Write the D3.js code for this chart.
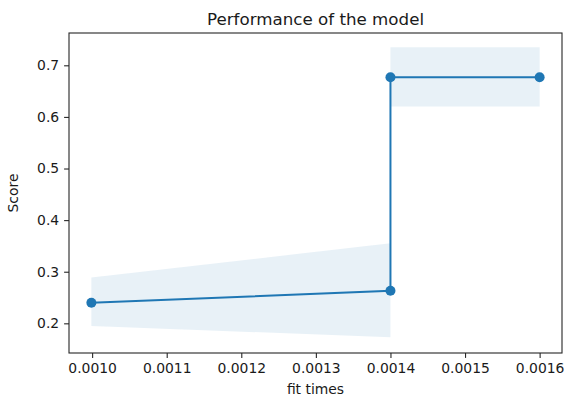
<!DOCTYPE html>
<html>
<head>
<meta charset="utf-8">
<script src="https://cdn.jsdelivr.net/npm/d3@7"></script>
<style>
  body { margin: 0; background: #fff; }
  text { font-family: "DejaVu Sans", sans-serif; fill: #1a1a1a; }
</style>
</head>
<body>
<div id="chart"></div>
<script>
// fit times and mean / spread of the score
const fitTimes = [0.000999, 0.0014, 0.0014, 0.0016];
const scoreMean = [0.240, 0.263, 0.677, 0.677];
const scoreLow = [0.195, 0.173, 0.620, 0.620];
const scoreHigh = [0.289, 0.355, 0.735, 0.735];
const xTicks = [0.0010, 0.0011, 0.0012, 0.0013, 0.0014, 0.0015, 0.0016];
const yTicks = [0.2, 0.3, 0.4, 0.5, 0.6, 0.7];

const W = 575, H = 398;
const margin = {top: 33, right: 13, bottom: 45, left: 69};
const width = W - margin.left - margin.right,
      height = H - margin.top - margin.bottom;

const svg = d3.select("#chart").append("svg")
    .attr("width", W)
    .attr("height", H);

const g = svg.append("g")
    .attr("transform", `translate(${margin.left},${margin.top})`);

const x = d3.scaleLinear()
    .domain([0.000969, 0.00163])
    .range([0, width]);

const y = d3.scaleLinear()
    .domain([0.1425, 0.7626])
    .range([height, 0]);

const pts = fitTimes.map((t, i) => ({t, m: scoreMean[i], lo: scoreLow[i], hi: scoreHigh[i]}));

// shaded band
g.append("path")
    .datum(pts)
    .attr("fill", "#1f77b4")
    .attr("fill-opacity", 0.1)
    .attr("d", d3.area()
        .x(d => x(d.t))
        .y0(d => y(d.lo))
        .y1(d => y(d.hi)));

// line
g.append("path")
    .datum(pts)
    .attr("fill", "none")
    .attr("stroke", "#1f77b4")
    .attr("stroke-width", 2)
    .attr("d", d3.line()
        .x(d => x(d.t))
        .y(d => y(d.m)));

g.selectAll(".dot")
    .data(pts)
    .enter().append("circle")
      .attr("class", "dot")
      .attr("cx", d => x(d.t))
      .attr("cy", d => y(d.m))
      .attr("r", 5)
      .attr("fill", "#1f77b4");

// axes
const xAxis = g.append("g")
    .attr("transform", `translate(0,${height})`)
    .call(d3.axisBottom(x).tickValues(xTicks).tickFormat(d3.format(".4f")).tickSize(4.9).tickPadding(4.9));

const yAxis = g.append("g")
    .call(d3.axisLeft(y).tickValues(yTicks).tickFormat(d3.format(".1f")).tickSize(4.9).tickPadding(4.9));

[xAxis, yAxis].forEach(a => {
  a.select(".domain").remove();
  a.selectAll(".tick line").attr("stroke", "#262626").attr("stroke-width", 1.1);
  a.selectAll(".tick text").style("font-size", "13.9px").attr("fill", "#1a1a1a");
});

// frame
g.append("rect")
    .attr("width", width)
    .attr("height", height)
    .attr("fill", "none")
    .attr("stroke", "#262626")
    .attr("stroke-width", 1.1);

// labels
svg.append("text")
    .attr("x", margin.left + width / 2)
    .attr("y", 25)
    .attr("text-anchor", "middle")
    .style("font-size", "16.7px")
    .text("Performance of the model");

svg.append("text")
    .attr("x", margin.left + width / 2)
    .attr("y", 394)
    .attr("text-anchor", "middle")
    .style("font-size", "13.9px")
    .text("fit times");

svg.append("text")
    .attr("transform", `translate(18,${margin.top + height / 2}) rotate(-90)`)
    .attr("text-anchor", "middle")
    .style("font-size", "13.9px")
    .text("Score");
</script>
</body>
</html>
